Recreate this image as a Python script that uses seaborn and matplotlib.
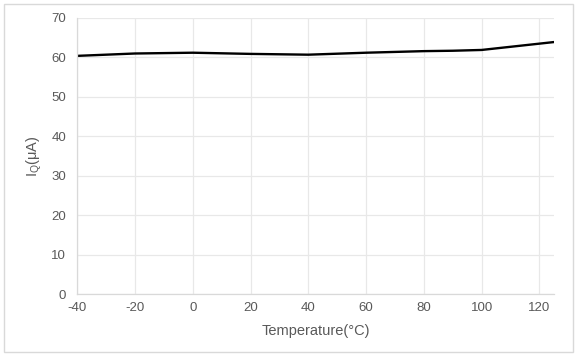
import numpy as np
import pandas as pd
import matplotlib
matplotlib.use('Agg')
import matplotlib.pyplot as plt
import seaborn as sns

# values
temperature = [-40, -20, 0, 20, 40, 60, 80, 90, 100, 110, 125]
iq_ua = [60.4, 61.0, 61.2, 60.9, 60.7, 61.2, 61.6, 61.7, 61.9, 62.7, 63.9]
x_ticks = [-40, -20, 0, 20, 40, 60, 80, 100, 120]
y_ticks = [0, 10, 20, 30, 40, 50, 60, 70]

df = pd.DataFrame({'T': temperature, 'Iq': iq_ua})

sns.set_theme(style='whitegrid')
plt.rcParams['font.family'] = ['Liberation Sans', 'DejaVu Sans']
plt.rcParams['mathtext.fontset'] = 'custom'
plt.rcParams['mathtext.rm'] = 'Liberation Sans'
plt.rcParams['axes.unicode_minus'] = False

fig = plt.figure(figsize=(5.8, 3.6), dpi=100)
ax = fig.add_axes([0.133, 0.183, 0.822, 0.767])

sns.lineplot(data=df, x='T', y='Iq', color='black', linewidth=1.7, ax=ax)

ax.set_xlim(-40, 125)
ax.set_ylim(0, 70)
ax.set_xticks(x_ticks)
ax.set_yticks(y_ticks)
ax.grid(True, color='#e8e8e8', linewidth=0.9)
for s in ['top', 'right']:
    ax.spines[s].set_visible(False)
for s in ['left', 'bottom']:
    ax.spines[s].set_color('#d9d9d9')
    ax.spines[s].set_linewidth(0.9)
ax.tick_params(axis='both', colors='#595959', labelsize=9.5, length=0)
ax.tick_params(axis='y', pad=8)
ax.tick_params(axis='x', pad=6)

ax.set_xlabel('Temperature(°C)', fontsize=10.5, color='#595959', labelpad=7)
ax.set_ylabel(r'I$_\mathregular{Q}$(μA)', fontsize=10.5, color='#595959', labelpad=5)

# light frame around the whole chart
fig.patches.append(plt.Rectangle((0.007, 0.022), 0.981, 0.966, transform=fig.transFigure,
                                 fill=False, edgecolor='#d9d9d9', linewidth=1))

fig.savefig('out.png', dpi=100)
